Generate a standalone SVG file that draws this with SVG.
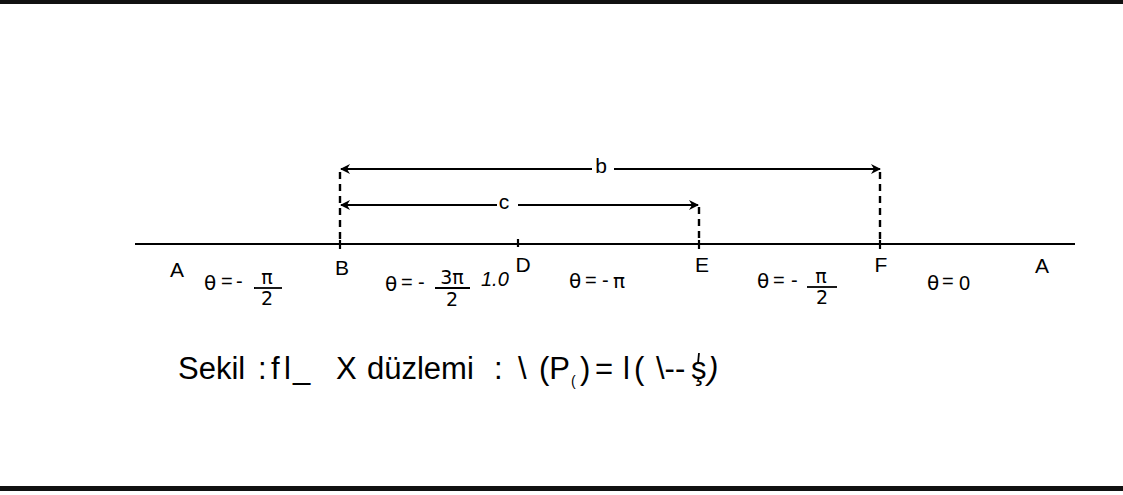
<svg xmlns="http://www.w3.org/2000/svg" width="1123" height="495" viewBox="0 0 1123 495">
<defs>
<marker id="ah" viewBox="0 0 10 10" refX="9" refY="5" markerWidth="10" markerHeight="10" markerUnits="userSpaceOnUse" orient="auto-start-reverse">
<path d="M0,0 L10,5 L0,10 L3,5 Z" fill="#000"/>
</marker>
<style>
.ln{stroke:#000;stroke-width:2.2;fill:none}
.bar{stroke:#000;stroke-width:1.8;fill:none}
.dash{stroke:#000;stroke-width:2.4;fill:none;stroke-dasharray:7,5}
.pt{font-family:"Liberation Sans",Arial,sans-serif;font-size:21px;fill:#000}
.th{font-family:"DejaVu Sans","Liberation Sans",sans-serif;font-size:20px;fill:#000}
.op{font-family:"Liberation Sans",Arial,sans-serif;font-size:20px;fill:#000}
.fr{font-family:"DejaVu Sans","Liberation Sans",sans-serif;font-size:19px;fill:#000}
.cap{font-family:"Liberation Sans",Arial,sans-serif;font-size:31px;fill:#000}
</style>
</defs>
<rect x="0" y="0" width="1123" height="495" fill="#fff"/>
<rect x="0" y="0" width="1123" height="4" fill="#111"/>
<rect x="0" y="486" width="1123" height="5" fill="#111"/>

<g id="connectors">
<line class="ln" x1="135" y1="244" x2="1075" y2="244"/>
<line class="dash" x1="340" y1="172" x2="340" y2="244"/>
<line class="dash" x1="699" y1="207" x2="699" y2="244"/>
<line class="dash" x1="880" y1="172" x2="880" y2="244"/>
<line class="ln" x1="518" y1="239" x2="518" y2="247"/>
<line class="ln" x1="340" y1="240" x2="340" y2="249"/>
<line class="ln" x1="699" y1="240" x2="699" y2="249"/>
<line class="ln" x1="880" y1="240" x2="880" y2="249"/>
<line class="ln" x1="341" y1="169" x2="592" y2="169" marker-start="url(#ah)"/>
<line class="ln" x1="614" y1="169" x2="880" y2="169" marker-end="url(#ah)"/>
<line class="ln" x1="341" y1="205" x2="497" y2="205" marker-start="url(#ah)"/>
<line class="ln" x1="518" y1="205" x2="698" y2="205" marker-end="url(#ah)"/>
</g>

<g id="label-b"><text class="pt" x="601" y="173" text-anchor="middle">b</text></g>
<g id="label-c"><text class="pt" x="504" y="209" text-anchor="middle">c</text></g>

<g id="node-A-left"><text class="pt" x="177" y="277" text-anchor="middle">A</text></g>
<g id="node-B"><text class="pt" x="342" y="275" text-anchor="middle">B</text></g>
<g id="node-D"><text class="pt" x="523" y="272" text-anchor="middle">D</text></g>
<g id="node-E"><text class="pt" x="702" y="272" text-anchor="middle">E</text></g>
<g id="node-F"><text class="pt" x="881" y="272" text-anchor="middle">F</text></g>
<g id="node-A-right"><text class="pt" x="1042" y="273" text-anchor="middle">A</text></g>

<g id="theta1">
<text class="th" x="204" y="290">θ</text>
<text class="op" x="221" y="288">=</text>
<text class="op" x="236" y="288">-</text>
<text class="fr" x="267" y="284" text-anchor="middle">π</text>
<line class="bar" x1="254" y1="288" x2="282" y2="288"/>
<text class="fr" x="267" y="305" text-anchor="middle">2</text>
</g>
<g id="theta2">
<text class="th" x="385" y="291">θ</text>
<text class="op" x="401" y="289">=</text>
<text class="op" x="418" y="289">-</text>
<text class="fr" x="452" y="284" text-anchor="middle" font-size="20">3π</text>
<line class="bar" x1="435" y1="288" x2="470" y2="288"/>
<text class="fr" x="452" y="306" text-anchor="middle">2</text>
<text class="op" x="481" y="286" font-size="12" font-style="italic">1.0</text>
</g>
<g id="theta3">
<text class="th" x="569" y="288">θ</text>
<text class="op" x="585" y="287">=</text>
<text class="op" x="602" y="287">-</text>
<text class="th" x="613" y="288" font-size="26">π</text>
</g>
<g id="theta4">
<text class="th" x="757" y="288">θ</text>
<text class="op" x="773" y="287">=</text>
<text class="op" x="791" y="287">-</text>
<text class="fr" x="821" y="283" text-anchor="middle">π</text>
<line class="bar" x1="807" y1="287" x2="837" y2="287"/>
<text class="fr" x="822" y="304" text-anchor="middle">2</text>
</g>
<g id="theta5">
<text class="th" x="927" y="290" font-size="21">θ</text>
<text class="op" x="942" y="288">=</text>
<text class="op" x="959" y="290" font-size="21">0</text>
</g>

<g id="caption" class="cap">
<text x="178" y="379">Sekil</text>
<text x="258" y="379">:</text>
<text x="271" y="379">f</text>
<text x="284" y="379">l</text>
<text x="293" y="379">_</text>
<text x="336" y="379">X</text>
<text x="367" y="379">düzlemi</text>
<text x="494" y="379">:</text>
<text x="518" y="379">\</text>
<text x="539" y="379">(P</text>
<text x="571" y="386" font-size="14">(</text>
<text x="580" y="379">)</text>
<text x="595" y="379">=</text>
<text x="623" y="379">l</text>
<text x="634" y="379">(</text>
<text x="656" y="379">\--</text>
<text x="691" y="379">ş</text>
<text x="708" y="379" font-style="italic">)</text>
<line class="bar" x1="699" y1="353" x2="698" y2="363" stroke-width="2"/>
</g>
</svg>
